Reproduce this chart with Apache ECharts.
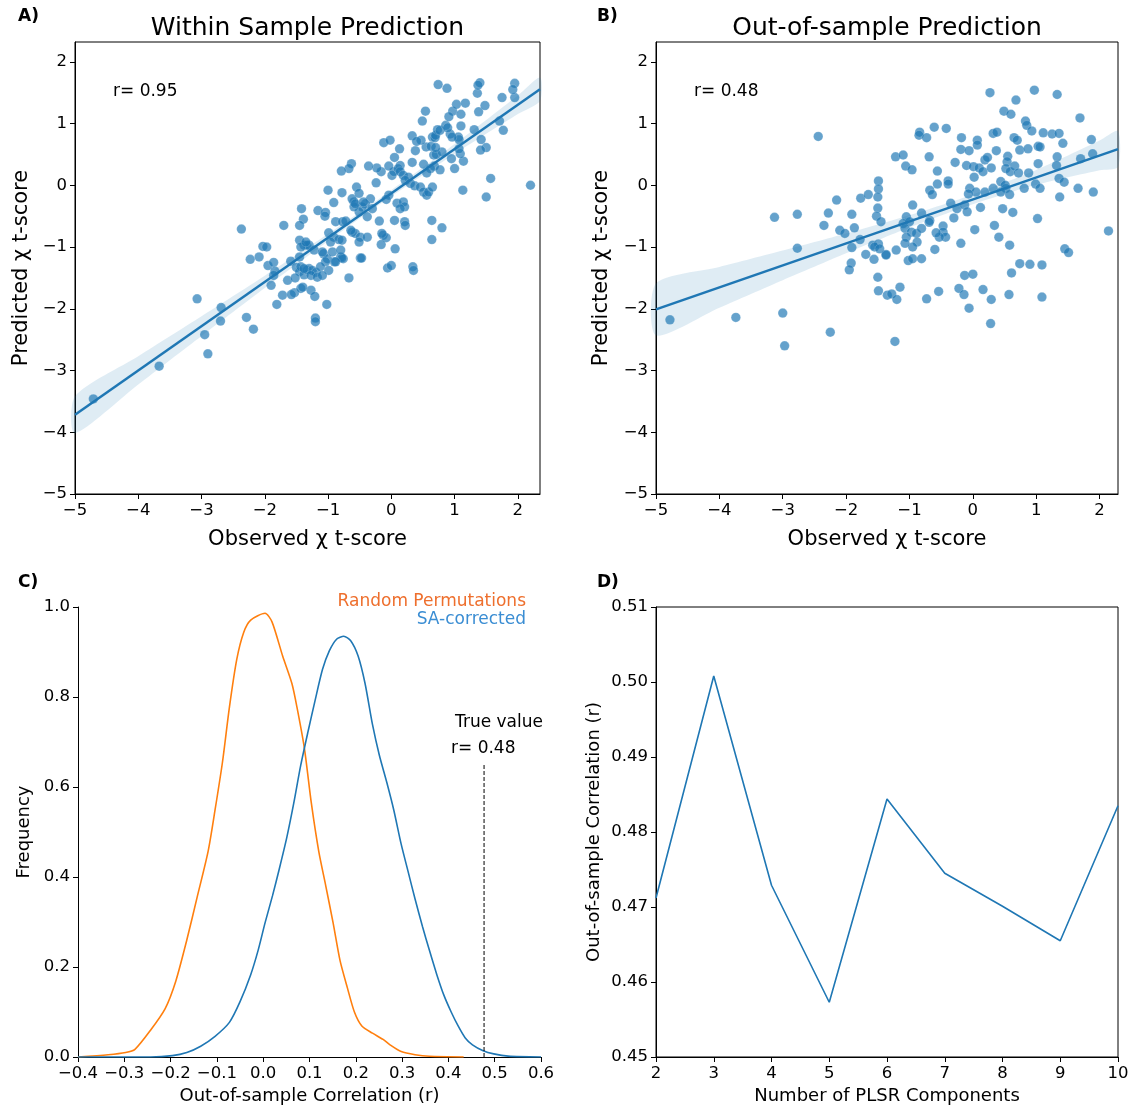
<!DOCTYPE html>
<html><head><meta charset="utf-8">
<script src="https://cdn.jsdelivr.net/npm/echarts@6/dist/echarts.min.js"></script>
<style>html,body{margin:0;padding:0;background:#fff}#c{width:1132px;height:1107px}</style>
</head><body><div id="c"></div>
<script>
// ---------- Panel A: within-sample prediction (observed, predicted) ----------
const scatterA = [
[-4.71,-3.46],[-3.67,-2.93],[-3.07,-1.84],[-2.95,-2.42],[-2.90,-2.73],[-2.69,-1.98],[-2.70,-2.20],[-2.29,-2.14],[-2.18,-2.33],[-2.37,-0.71],
[-2.23,-1.20],[-2.09,-1.16],[-2.03,-0.99],[-1.97,-1.00],[-1.95,-1.30],[-1.86,-1.25],[-1.84,-1.39],[-1.86,-1.46],[-1.90,-1.62],[-1.81,-1.93],
[-1.72,-1.78],[-1.64,-1.54],[-1.53,-1.74],[-1.43,-1.67],[-1.70,-0.65],[-1.59,-1.23],[-1.45,-1.16],[-1.42,-0.38],[-1.39,-0.55],[-1.45,-0.65],
[-1.45,-0.89],[-1.50,-1.33],[-1.45,-1.40],[-1.38,-1.45],[-1.30,-1.35],[-1.52,-1.50],[-1.38,-0.97],[-1.30,-0.97],[-1.27,-1.70],
[-1.58,-1.77],[-1.20,-2.15],[-1.20,-2.21],[-1.02,-1.93],[-1.21,-1.80],[-1.40,-1.65],[-1.16,-0.41],[-1.04,-0.44],[-1.05,-0.50],[-0.88,-0.59],
[-0.77,-0.59],[-0.72,-0.58],[-0.99,-0.77],[-0.91,-0.84],[-0.83,-0.88],[-0.96,-0.92],[-0.78,-0.89],[-1.33,-0.97],[-1.43,-1.00],[-1.35,-0.92],
[-1.22,-1.05],[-1.07,-1.11],[-1.01,-1.19],[-0.93,-1.08],[-0.90,-1.24],[-0.80,-1.16],[-0.76,-1.19],[-1.09,-1.08],[-1.04,-1.24],
[-1.43,-1.32],[-1.33,-1.37],[-1.25,-1.38],[-1.19,-1.41],[-1.12,-1.32],[-0.99,-1.38],[-1.27,-1.46],[-1.17,-1.49],[-1.09,-1.46],[-1.38,-1.35],
[-0.67,-1.50],[-0.49,-1.18],[-0.78,-1.18],[-0.88,-1.24],[-0.80,-1.05],[-0.62,-0.76],[-0.57,-0.78],[-0.49,-0.84],[-0.51,-0.92],[-0.38,-0.84],
[-0.64,-0.73],[-0.06,-1.34],[0.00,-1.30],[0.34,-1.32],[0.35,-1.38],[-0.47,-1.18],[0.06,-1.03],[-0.13,-0.81],[-0.08,-0.85],[-0.16,-0.96],
[-0.15,-0.78],[0.64,-0.88],[0.64,-0.57],[0.80,-0.69],[0.05,-0.57],[0.21,-0.59],[0.22,-0.65],[-0.19,-0.58],
[-0.33,-0.22],[-0.41,-0.30],[-0.30,-0.38],[-0.46,-0.35],[-0.59,-0.27],[-0.62,-0.22],[-0.38,-0.51],[-0.51,-0.43],[-0.59,-0.35],[-0.57,-0.30],
[-0.44,-0.27],[-0.04,-0.16],[-0.08,-0.23],[0.09,-0.29],[0.19,-0.27],[0.21,-0.35],[0.14,-0.38],[-1.00,-0.08],[-0.91,-0.28],[-0.78,-0.12],
[-0.55,-0.03],[-0.51,-0.13],[-0.63,0.35],[-0.67,0.27],[-0.79,0.23],[-0.24,0.04],[0.01,0.16],[0.04,0.22],[-0.04,0.31],[-0.16,0.22],
[-0.23,0.28],[-0.36,0.31],[0.14,0.32],[0.11,0.27],[0.14,0.22],[0.19,0.16],[0.27,0.13],[0.22,0.08],[0.30,0.03],[0.37,-0.01],
[0.46,-0.03],[0.51,-0.11],[0.56,-0.16],[0.59,-0.11],[0.65,-0.03],[0.13,0.59],[0.05,0.45],[-0.12,0.69],[-0.02,0.73],[0.51,0.34],
[0.33,0.37],[0.68,0.31],[0.62,0.27],[0.56,0.20],[0.77,0.25],[1.00,0.27],[1.14,0.39],[0.95,0.43],[1.09,0.51],[1.07,0.59],
[0.67,0.49],[0.71,0.50],[0.80,0.54],[0.38,0.56],[0.55,0.62],[0.63,0.63],[0.70,0.61],[0.47,0.73],[0.65,0.78],[0.69,0.77],
[0.70,0.81],[0.33,0.80],[0.40,0.71],[1.50,0.61],[1.41,0.57],[1.42,0.74],[1.06,0.78],[1.07,0.74],[0.93,0.83],[0.96,0.78],
[0.73,0.90],[0.77,0.89],[1.31,0.90],[1.71,1.04],[1.77,0.89],[1.10,0.96],[0.86,0.97],[0.89,0.93],[0.49,1.04],[0.54,1.20],
[0.97,1.20],[0.91,1.11],[1.10,1.15],[1.38,1.19],[1.48,1.29],[1.03,1.31],[1.17,1.33],[1.75,1.42],[1.95,1.42],[1.36,1.49],
[1.95,1.65],[1.92,1.55],[1.40,1.66],[1.37,1.62],[0.74,1.63],[0.88,1.57],[1.13,-0.08],[1.57,0.11],[1.50,-0.19],[2.20,0.00]
];
const fitLineA = [[-5,-3.715],[2.35,1.555]];
const bandAx  = [-5, -4, -3, -2, -1, 0, 1, 2, 2.35];
const bandAlo = [-4.015,-3.228,-2.441,-1.664,-0.907,-0.180,0.507,1.154,1.365];
const bandAhi = [-3.415,-2.768,-2.121,-1.464,-0.787,-0.080,0.667,1.454,1.745];

// ---------- Panel B: out-of-sample prediction ----------
const scatterB = [
[-4.78,-2.18],[-3.74,-2.14],[-3.00,-2.07],[-2.97,-2.60],[-2.25,-2.38],[-1.23,-2.53],
[-2.44,0.79],[-3.13,-0.52],[-2.77,-0.47],[-2.28,-0.45],[-2.35,-0.65],[-2.15,-0.24],[-1.91,-0.47],[-1.87,-0.69],[-1.77,-0.21],[-1.65,-0.15],
[-1.49,0.07],[-1.49,-0.06],[-1.50,-0.19],[-1.50,-0.37],[-1.52,-0.50],[-1.45,-0.59],[-2.10,-0.73],[-2.02,-0.78],[-1.91,-1.01],[-1.78,-0.88],
[-2.77,-1.02],[-1.69,-1.12],[-1.58,-0.97],[-1.49,-0.95],[-1.56,-1.20],[-1.92,-1.26],[-1.95,-1.37],[-1.37,-1.12],[-1.50,-1.49],[-1.49,-1.71],
[-1.35,-1.78],[-1.55,-1.00],[-1.47,-1.03],
[0.27,1.50],[0.97,1.54],[1.33,1.47],[0.68,1.38],[0.49,1.20],[0.60,1.15],[1.69,1.09],[0.83,1.04],[0.85,0.97],[0.93,0.88],
[1.11,0.85],[1.25,0.83],[1.36,0.84],[1.42,0.68],[1.87,0.74],[-0.84,0.86],[-0.85,0.81],[-0.73,0.77],[-0.61,0.94],[-0.42,0.92],
[-0.18,0.77],[0.07,0.73],[0.07,0.65],[0.32,0.84],[0.38,0.86],[0.65,0.77],[0.70,0.73],[0.74,0.57],[0.87,0.59],[1.03,0.63],[1.06,0.62],
[-0.19,0.58],[-0.06,0.56],[0.37,0.56],[-1.22,0.46],[-1.10,0.49],[-0.69,0.46],[-1.06,0.31],[-0.96,0.25],[-0.56,0.23],
[-0.28,0.37],[-0.10,0.32],[0.01,0.30],[0.10,0.28],[0.16,0.22],[0.19,0.41],[0.23,0.45],[0.29,0.28],
[0.55,0.47],[0.54,0.38],[0.52,0.27],[0.59,0.22],[0.66,0.31],[0.72,0.20],[0.88,0.20],[1.03,0.35],[1.33,0.46],[1.32,0.32],[1.70,0.43],[1.89,0.51],
[-0.68,-0.08],[-0.64,-0.15],[-0.56,0.02],[-0.39,0.07],[-0.39,0.02],[0.02,0.13],[-0.05,-0.05],[0.05,-0.11],[-0.07,-0.14],[0.19,-0.11],[0.32,-0.05],
[0.44,0.06],[0.51,0.00],[0.52,-0.05],[0.44,-0.11],[0.58,-0.15],[0.81,-0.05],[0.99,0.02],[1.06,-0.05],[1.36,0.11],[1.44,0.05],[1.66,-0.05],[1.90,-0.11],[1.37,-0.19],
[-0.35,-0.29],[-0.25,-0.38],[-0.13,-0.32],[-0.09,-0.43],[0.12,-0.36],[0.47,-0.38],[0.63,-0.44],
[-0.95,-0.32],[-0.81,-0.45],[-1.05,-0.51],[-1.10,-0.62],[-1.00,-0.59],[-1.07,-0.70],[-0.97,-0.76],[-1.05,-0.84],[-0.89,-0.78],[-0.88,-0.92],
[-0.81,-0.70],[-0.95,-1.00],[-1.07,-0.94],[-1.02,-1.22],[-0.95,-1.19],[-0.81,-1.19],[-1.21,-1.05],[-1.37,-1.13],
[-0.68,-0.57],[-0.69,-0.60],[-0.47,-0.66],[-0.47,-0.76],[-0.43,-0.84],[-0.53,-0.84],[-0.58,-0.77],[-0.30,-0.53],[-0.60,-1.04],[-0.19,-0.94],
[0.03,-0.72],[0.34,-0.65],[0.41,-0.84],[0.58,-0.97],[1.02,-0.54],[1.45,-1.03],[1.51,-1.09],[2.14,-0.74],
[0.74,-1.27],[0.90,-1.28],[1.09,-1.29],[0.61,-1.42],[-0.13,-1.46],[0.00,-1.44],
[-1.28,-1.76],[-1.20,-1.85],[-1.15,-1.65],[-0.73,-1.84],[-0.54,-1.72],[-0.22,-1.67],[-0.14,-1.77],[-0.06,-1.99],[0.16,-1.69],[0.29,-1.85],
[0.57,-1.77],[1.09,-1.81],[0.28,-2.24]
];
const fitLineB = [[-5,-2.01],[2.29,0.586]];
const bandBx  = [-5, -4, -3, -2, -1, 0, 1, 2, 2.29];
const bandBlo = [-2.430,-1.983,-1.537,-1.101,-0.685,-0.309,0.007,0.243,0.296];
const bandBhi = [-1.590,-1.323,-1.057,-0.781,-0.485,-0.149,0.247,0.723,0.876];

// ---------- Panel C: distributions of out-of-sample r ----------
const permCurve = [
[-0.4,0],[-0.335,0.005],[-0.297,0.010],[-0.277,0.017],[-0.243,0.060],[-0.212,0.107],[-0.189,0.168],[-0.165,0.260],
[-0.142,0.358],[-0.119,0.457],[-0.104,0.549],[-0.088,0.655],[-0.073,0.777],[-0.057,0.884],[-0.042,0.944],[-0.027,0.971],
[0.004,0.986],[0.019,0.967],[0.042,0.891],[0.062,0.830],[0.073,0.777],[0.089,0.686],[0.104,0.564],[0.120,0.457],
[0.135,0.381],[0.151,0.298],[0.166,0.214],[0.182,0.153],[0.197,0.100],[0.213,0.069],[0.236,0.053],[0.259,0.039],
[0.274,0.027],[0.298,0.012],[0.328,0.005],[0.359,0.0015],[0.433,0]
];
const saCurve = [
[-0.4,0],[-0.243,0],[-0.196,0.003],[-0.165,0.010],[-0.135,0.024],[-0.104,0.046],[-0.073,0.077],[-0.050,0.123],
[-0.027,0.183],[-0.011,0.237],[0.004,0.298],[0.020,0.358],[0.035,0.419],[0.051,0.488],[0.066,0.564],[0.081,0.648],
[0.097,0.724],[0.112,0.792],[0.128,0.861],[0.143,0.903],[0.159,0.929],[0.174,0.935],[0.189,0.925],[0.205,0.891],
[0.220,0.830],[0.236,0.739],[0.251,0.670],[0.267,0.610],[0.282,0.549],[0.298,0.473],[0.313,0.412],[0.328,0.351],
[0.344,0.290],[0.359,0.237],[0.375,0.183],[0.390,0.138],[0.406,0.100],[0.421,0.069],[0.436,0.043],[0.452,0.027],
[0.475,0.014],[0.498,0.007],[0.529,0.002],[0.6,0]
];
const trueR = 0.477;
const trueLineTop = 0.65;

// ---------- Panel D: r by number of PLSR components ----------
const plsrComponents = [2, 3, 4, 5, 6, 7, 8, 9, 10];
const plsrCorr = [0.4712, 0.5008, 0.4729, 0.4573, 0.4844, 0.4745, 0.4701, 0.4655, 0.4835];

// ---------- tick values ----------
const ticksAB = [-5, -4, -3, -2, -1, 0, 1, 2];
const ticksCx = [-0.4, -0.3, -0.2, -0.1, 0, 0.1, 0.2, 0.3, 0.4, 0.5, 0.6];
const ticksCy = [0, 0.2, 0.4, 0.6, 0.8, 1.0];
const ticksDx = [2, 3, 4, 5, 6, 7, 8, 9, 10];
const ticksDy = [0.45, 0.46, 0.47, 0.48, 0.49, 0.50, 0.51];

const FONT = 'DejaVu Sans';
const BLUE = '#1f77b4', ORANGE = '#ff7f0e';
function fmt(v, d) { if (Math.abs(v) < 1e-9) v = 0; const s = Math.abs(v).toFixed(d); return (v < 0 ? '\u2212' : '') + s; }
function axis(o) {
  return {
    type: 'value', gridIndex: o.grid, min: o.min, max: o.max,
    name: o.name, nameLocation: 'middle', nameGap: o.nameGap,
    nameTextStyle: { fontFamily: FONT, fontSize: o.nameSize, color: '#000' },
    axisLine: { show: true, onZero: false, lineStyle: { color: '#000', width: 1 } },
    axisTick: { show: true, length: 5, lineStyle: { color: '#000', width: 1 }, customValues: o.ticks },
    axisLabel: { show: true, margin: 8, fontFamily: FONT, fontSize: 16.5, color: '#000', customValues: o.ticks,
                 formatter: v => fmt(v, o.dec) },
    splitLine: { show: false }
  };
}
function band(ax, xs, lo, hi) {
  return {
    type: 'custom', xAxisIndex: ax, yAxisIndex: ax, data: [0], silent: true, z: 3,
    renderItem: (params, api) => {
      const up = xs.map((x, i) => api.coord([x, hi[i]]));
      const dn = xs.map((x, i) => api.coord([x, lo[i]])).reverse();
      return { type: 'polygon', shape: { points: up.concat(dn), smooth: 0.25 }, style: { fill: 'rgba(31,119,180,0.14)' } };
    }
  };
}
const scatterStyle = { color: 'rgba(31,119,180,0.86)', borderColor: 'rgba(255,255,255,0.45)', borderWidth: 0.5 };

function txt(text, x, y, size, opts) {
  opts = opts || {};
  return { type: 'text', x: x, y: y, silent: true, z: 100,
    style: { text: text, fill: opts.fill || '#000', font: (opts.bold ? 'bold ' : '') + size + 'px "' + FONT + '"',
             textAlign: opts.align || 'left', align: opts.align || 'left',
             textVerticalAlign: 'middle', verticalAlign: 'middle' } };
}

const chart = echarts.init(document.getElementById('c'), null, { renderer: 'canvas' });
chart.setOption({
  animation: false,
  backgroundColor: '#fff',
  grid: [
    { left: 75, top: 42, width: 465, height: 452, show: true, borderColor: '#000', borderWidth: 1, backgroundColor: 'transparent' },
    { left: 656, top: 42, width: 462, height: 452, show: true, borderColor: '#000', borderWidth: 1, backgroundColor: 'transparent' },
    { left: 78, top: 607, width: 463, height: 450, show: false },
    { left: 656, top: 607, width: 462, height: 450, show: true, borderColor: '#000', borderWidth: 1, backgroundColor: 'transparent' }
  ],
  xAxis: [
    axis({ grid: 0, min: -5, max: 2.35, ticks: ticksAB, dec: 0, name: 'Observed \u03c7 t-score', nameGap: 35, nameSize: 21 }),
    axis({ grid: 1, min: -5, max: 2.29, ticks: ticksAB, dec: 0, name: 'Observed \u03c7 t-score', nameGap: 35, nameSize: 21 }),
    axis({ grid: 2, min: -0.4, max: 0.6, ticks: ticksCx, dec: 1, name: 'Out-of-sample Correlation (r)', nameGap: 30, nameSize: 18 }),
    axis({ grid: 3, min: 2, max: 10, ticks: ticksDx, dec: 0, name: 'Number of PLSR Components', nameGap: 30, nameSize: 18 })
  ],
  yAxis: [
    axis({ grid: 0, min: -5, max: 2.32, ticks: ticksAB, dec: 0, name: 'Predicted \u03c7 t-score', nameGap: 43, nameSize: 21 }),
    axis({ grid: 1, min: -5, max: 2.32, ticks: ticksAB, dec: 0, name: 'Predicted \u03c7 t-score', nameGap: 44, nameSize: 21 }),
    axis({ grid: 2, min: 0, max: 1.0, ticks: ticksCy, dec: 1, name: 'Frequency', nameGap: 45, nameSize: 18 }),
    axis({ grid: 3, min: 0.45, max: 0.51, ticks: ticksDy, dec: 2, name: 'Out-of-sample Correlation (r)', nameGap: 53, nameSize: 18 })
  ],
  series: [
    { type: 'scatter', xAxisIndex: 0, yAxisIndex: 0, data: scatterA, symbolSize: 9.5, itemStyle: scatterStyle, z: 2 },
    band(0, bandAx, bandAlo, bandAhi),
    { type: 'line', xAxisIndex: 0, yAxisIndex: 0, data: fitLineA, showSymbol: false, lineStyle: { color: BLUE, width: 2.5 }, z: 4 },
    { type: 'scatter', xAxisIndex: 1, yAxisIndex: 1, data: scatterB, symbolSize: 9.5, itemStyle: scatterStyle, z: 2 },
    band(1, bandBx, bandBlo, bandBhi),
    { type: 'line', xAxisIndex: 1, yAxisIndex: 1, data: fitLineB, showSymbol: false, lineStyle: { color: BLUE, width: 2.5 }, z: 4 },
    { type: 'line', xAxisIndex: 2, yAxisIndex: 2, data: permCurve, showSymbol: false, smooth: 0.25, lineStyle: { color: ORANGE, width: 1.6 } },
    { type: 'line', xAxisIndex: 2, yAxisIndex: 2, data: saCurve, showSymbol: false, smooth: 0.25, lineStyle: { color: BLUE, width: 1.6 } },
    { type: 'line', xAxisIndex: 2, yAxisIndex: 2, data: [[trueR, 0], [trueR, trueLineTop]], showSymbol: false,
      lineStyle: { color: '#000', width: 1, type: [4, 2] } },
    { type: 'line', xAxisIndex: 3, yAxisIndex: 3, data: plsrComponents.map((c, i) => [c, plsrCorr[i]]), showSymbol: false,
      lineStyle: { color: BLUE, width: 1.6 } }
  ],
  graphic: [
    txt('A)', 18, 17, 17, { bold: true }),
    txt('B)', 597, 17, 17, { bold: true }),
    txt('C)', 18, 583, 17, { bold: true }),
    txt('D)', 597, 583, 17, { bold: true }),
    txt('Within Sample Prediction', 307.5, 28, 25, { align: 'center' }),
    txt('Out-of-sample Prediction', 887, 28, 25, { align: 'center' }),
    txt('r= 0.95', 113, 92, 17),
    txt('r= 0.48', 694, 92, 17),
    txt('Random Permutations', 526, 602, 17, { align: 'right', fill: '#ee6f2d' }),
    txt('SA-corrected', 526, 620, 17, { align: 'right', fill: '#3a8dd3' }),
    txt('True value', 455, 723, 17),
    txt('r= 0.48', 451, 749, 17)
  ]
});
</script></body></html>
